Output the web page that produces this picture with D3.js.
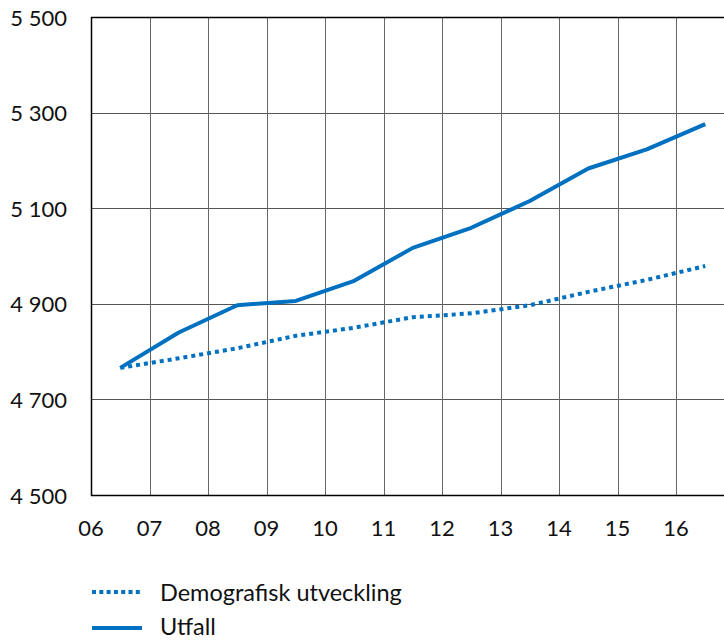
<!DOCTYPE html>
<html>
<head>
<meta charset="utf-8">
<script src="https://cdn.jsdelivr.net/npm/d3@7"></script>
<style>
  html, body { margin: 0; padding: 0; background: #fff; }
  svg { display: block; }
  text { font-family: Lato, "Open Sans", sans-serif; fill: #111; }
</style>
</head>
<body>
<script>
const yearTicks = [6, 7, 8, 9, 10, 11, 12, 13, 14, 15, 16, 17];
const yearLabels = ["06", "07", "08", "09", "10", "11", "12", "13", "14", "15", "16", ""];
const pointYears = [6.5, 7.5, 8.5, 9.5, 10.5, 11.5, 12.5, 13.5, 14.5, 15.5, 16.5];
const demografisk = [4766, 4786, 4807, 4833, 4850, 4872, 4880, 4897, 4925, 4950, 4979];
const utfall = [4766, 4840, 4897, 4906, 4948, 5017, 5059, 5115, 5183, 5223, 5276];
const yTicks = [4500, 4700, 4900, 5100, 5300, 5500];
const yTickLabels = ["4 500", "4 700", "4 900", "5 100", "5 300", "5 500"];
const seriesNames = ["Demografisk utveckling", "Utfall"];

(function () {
const W = 724, H = 640;
const plotLeft = 91, plotTop = 17, plotBottom = 495;
const blue = "#0070c0";

const svg = d3.select("body").append("svg").attr("width", W).attr("height", H);

const x = d3.scaleLinear().domain([6, 17]).range([plotLeft, plotLeft + 58.5 * 11]);
const y = d3.scaleLinear().domain([4500, 5500]).range([plotBottom, plotTop]);

// horizontal grid
svg.append("g").selectAll("line").data(yTicks.slice(1, -1)).join("line")
  .attr("x1", plotLeft).attr("x2", W)
  .attr("y1", d => Math.round(y(d)) + 0.5).attr("y2", d => Math.round(y(d)) + 0.5)
  .attr("stroke", "#555").attr("stroke-width", 1);

// vertical grid
svg.append("g").selectAll("line").data(yearTicks.slice(1)).join("line")
  .attr("x1", d => Math.round(x(d)) + 0.5).attr("x2", d => Math.round(x(d)) + 0.5)
  .attr("y1", plotTop).attr("y2", plotBottom)
  .attr("stroke", "#666").attr("stroke-width", 1);

// frame
svg.append("line").attr("x1", plotLeft + 0.5).attr("x2", plotLeft + 0.5).attr("y1", plotTop).attr("y2", plotBottom + 1)
  .attr("stroke", "#000").attr("stroke-width", 1.5);
svg.append("line").attr("x1", plotLeft).attr("x2", W).attr("y1", plotTop + 0.5).attr("y2", plotTop + 0.5)
  .attr("stroke", "#000").attr("stroke-width", 1.5);
svg.append("line").attr("x1", plotLeft).attr("x2", W).attr("y1", plotBottom + 0.5).attr("y2", plotBottom + 0.5)
  .attr("stroke", "#000").attr("stroke-width", 1.5);

// y labels
svg.append("g").selectAll("text").data(yTicks).join("text")
  .attr("x", 67).attr("y", d => y(d))
  .attr("text-anchor", "end").attr("dominant-baseline", "central")
  .attr("font-size", 22)
  .text((d, i) => yTickLabels[i]);

// x labels
svg.append("g").selectAll("text").data(yearTicks).join("text")
  .attr("x", d => x(d)).attr("y", 536)
  .attr("text-anchor", "middle")
  .attr("font-size", 22)
  .text((d, i) => yearLabels[i]);

const line = d3.line().x(d => x(d[0])).y(d => y(d[1]));

svg.append("path")
  .datum(pointYears.map((t, i) => [t, demografisk[i]]))
  .attr("d", line).attr("fill", "none")
  .attr("stroke", blue).attr("stroke-width", 4)
  .attr("stroke-dasharray", "4,4");

svg.append("path")
  .datum(pointYears.map((t, i) => [t, utfall[i]]))
  .attr("d", line).attr("fill", "none")
  .attr("stroke", blue).attr("stroke-width", 4)
  .attr("stroke-linejoin", "round");

// legend
const leg = svg.append("g");
const legY = [592, 628];
leg.selectAll("line").data(seriesNames).join("line")
  .attr("x1", 92).attr("x2", 142)
  .attr("y1", (d, i) => legY[i]).attr("y2", (d, i) => legY[i])
  .attr("stroke", blue).attr("stroke-width", 4)
  .attr("stroke-dasharray", (d, i) => i === 0 ? "4,3.3" : null);
leg.selectAll("text").data(seriesNames).join("text")
  .attr("x", 160).attr("y", (d, i) => legY[i] + (i === 0 ? 9 : 7))
  .attr("font-size", 23.5)
  .text(d => d);
})();
</script>
</body>
</html>
